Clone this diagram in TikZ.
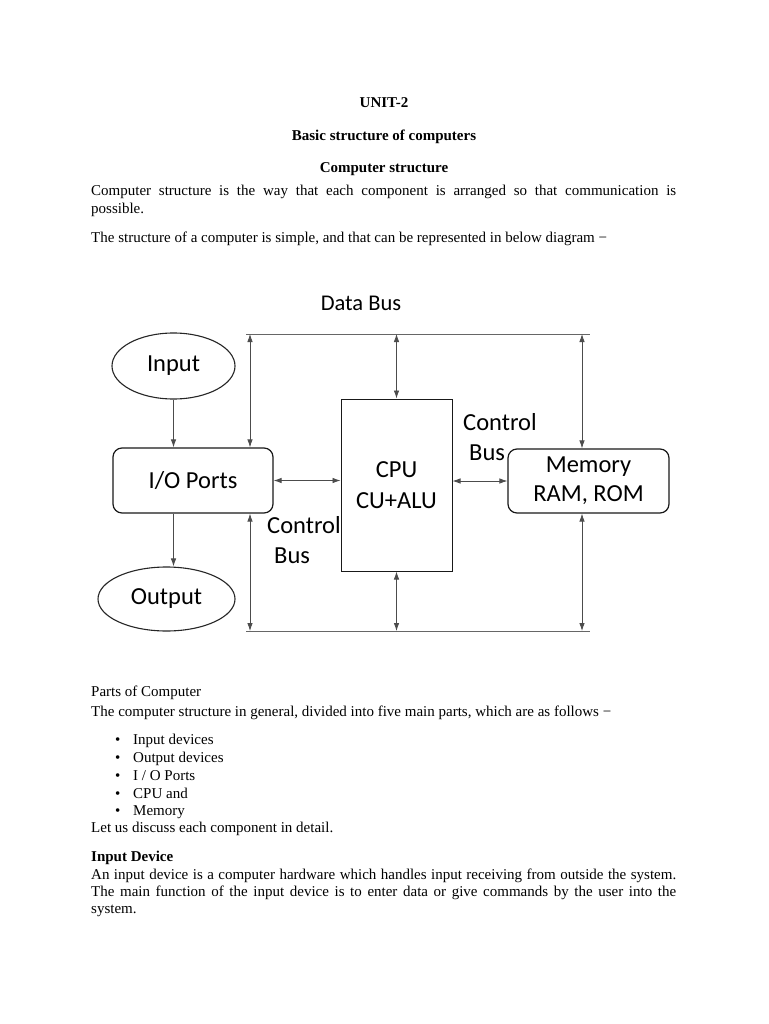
\documentclass[tikz,border=0pt]{standalone}
\usepackage{fontspec}
\setmainfont{Liberation Serif}
\newfontfamily\diagfont{Carlito}
\usetikzlibrary{shapes.geometric, arrows.meta, positioning}
\tikzstyle{txt} = [anchor=base west, inner sep=0pt, font=\fontsize{15}{17.5}\selectfont]
\tikzstyle{hdr} = [anchor=base, inner sep=0pt, font=\fontsize{15}{17.5}\selectfont\bfseries]
\tikzstyle{oval} = [ellipse, draw=black!85, line width=1.1pt, inner sep=0pt, font=\diagfont\fontsize{24.5}{29}\selectfont]
\tikzstyle{unit} = [rectangle, rounded corners=9pt, draw=black!90, line width=1.2pt, align=center, font=\diagfont\fontsize{24.5}{29}\selectfont]
\tikzstyle{cpubox} = [rectangle, draw=black!90, line width=1pt, align=center, font=\diagfont\fontsize{24.5}{31}\selectfont]
\tikzstyle{buslabel} = [anchor=base west, inner sep=0pt, align=left, font=\diagfont\fontsize{24.5}{30}\selectfont]
\tikzstyle{bus} = [draw=black!60, line width=0.9pt]
\tikzstyle{arrow} = [black!70, line width=0.8pt, -{Latex[length=8pt,width=5.5pt]}]
\tikzstyle{dblarrow} = [black!70, line width=0.8pt, {Latex[length=8pt,width=5.5pt]}-{Latex[length=8pt,width=5.5pt]}]
\begin{document}
\begin{tikzpicture}[x=1pt, y=-1pt]
    \fill[white] (0,0) rectangle (768,1024);
    \useasboundingbox (0,0) rectangle (768,1024);

    % page text above the diagram
    \node (unit) [hdr] at (384,108) {UNIT-2};
    \node (title) [hdr] at (384,141) {Basic structure of computers};
    \node (sub) [hdr] at (384,173) {Computer structure};
    \node (p1a) [txt] at (91,196) {\makebox[585pt][s]{Computer structure is the way that each component is arranged so that communication is}};
    \node (p1b) [txt] at (91,214) {possible.};
    \node (p2) [txt] at (91,242) {The structure of a computer is simple, and that can be represented in below diagram −};

    % diagram
    \node (databus) [anchor=base, inner sep=0pt, font=\diagfont\fontsize{22.5}{26}\selectfont] at (361,310) {Data Bus};
    \node (in) [oval, minimum width=123pt, minimum height=66pt] at (173.5,366) {Input};
    \node (io) [unit, minimum width=160pt, minimum height=65pt] at (193,480.5) {I/O Ports};
    \node (out) [oval, minimum width=137pt, minimum height=64pt] at (166.5,599) {Output};
    \node (cpu) [cpubox, minimum width=111pt, minimum height=172pt] at (396.5,485) {CPU\\CU+ALU};
    \node (mem) [unit, minimum width=161pt, minimum height=64pt] at (588.5,481) {Memory\\RAM, ROM};
    \node (ctlL) [buslabel] at (267,563) {Control\\\hspace*{7pt}Bus}; % base = last line
    \node (ctlR) [buslabel] at (463,460) {Control\\\hspace*{6pt}Bus};

    \coordinate (topL) at (246,334);
    \coordinate (topR) at (590,334);
    \coordinate (botL) at (246,631);
    \coordinate (botR) at (590,631);
    \coordinate (ioTap) at (250,334);
    \coordinate (memTap) at (582,334);
    \draw [bus] (topL) -- (topR);
    \draw [bus] (botL) -- (botR);

    \draw [arrow] (in) -- (in |- io.north);
    \draw [arrow] (io.south -| in) -- (out.north -| in);
    \draw [dblarrow] (ioTap) -- (ioTap |- io.north);
    \draw [dblarrow] (ioTap |- botL) -- (ioTap |- io.south);
    \draw [dblarrow] (cpu.north |- topL) -- (cpu.north);
    \draw [dblarrow] (cpu.south |- botL) -- (cpu.south);
    \draw [dblarrow] (memTap) -- (memTap |- mem.north);
    \draw [dblarrow] (memTap |- botL) -- (memTap |- mem.south);
    \draw [dblarrow] (io.east) -- (io.east -| cpu.west);
    \draw [dblarrow] (cpu.east |- mem.west) -- (mem.west);

    % page text below the diagram
    \node (parts) [txt] at (91,696) {Parts of Computer};
    \node (intro) [txt] at (91,716) {The computer structure in general, divided into five main parts, which are as follows −};
    \foreach \lbl/\yy in {Input devices/744, Output devices/762, {I / O Ports}/780, CPU and/798, Memory/815} {
        \node (dot\yy) [txt] at (115,\yy) {•};
        \node (li\yy) [txt] at (133,\yy) {\lbl};
    }
    \node (detail) [txt] at (91,832) {Let us discuss each component in detail.};
    \node (inhead) [txt, font=\fontsize{15}{17.5}\selectfont\bfseries] at (91,861) {Input Device};
    \node (d1) [txt] at (91,879) {\makebox[585pt][s]{An input device is a computer hardware which handles input receiving from outside the system.}};
    \node (d2) [txt] at (91,896) {\makebox[585pt][s]{The main function of the input device is to enter data or give commands by the user into the}};
    \node (d3) [txt] at (91,913) {system.};
\end{tikzpicture}
\end{document}
